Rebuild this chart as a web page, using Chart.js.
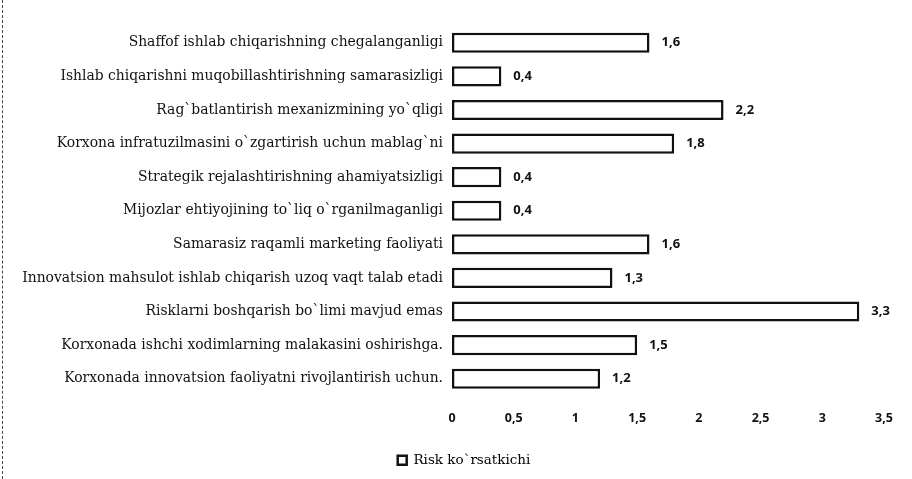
<!DOCTYPE html>
<html>
<head>
<meta charset="utf-8">
<script src="https://cdn.jsdelivr.net/npm/chart.js@4"></script>
<style>
  html, body { margin: 0; padding: 0; background: #fff; }
  #wrap { position: relative; width: 912px; height: 479px; }
  #edge { position: absolute; left: 2px; top: 0; bottom: 0; border-left: 1px dashed #444; }
</style>
</head>
<body>
<div id="wrap">
  <div id="edge"></div>
  <canvas id="risk"></canvas>
</div>
<script>
const categories = [
  'Shaffof ishlab chiqarishning chegalanganligi',
  'Ishlab chiqarishni muqobillashtirishning samarasizligi',
  'Rag`batlantirish mexanizmining yo`qligi',
  'Korxona infratuzilmasini o`zgartirish uchun mablag`ni',
  'Strategik rejalashtirishning ahamiyatsizligi',
  'Mijozlar ehtiyojining to`liq o`rganilmaganligi',
  'Samarasiz raqamli marketing faoliyati',
  'Innovatsion mahsulot ishlab chiqarish uzoq vaqt talab etadi',
  'Risklarni boshqarish bo`limi mavjud emas',
  'Korxonada ishchi xodimlarning malakasini oshirishga.',
  'Korxonada innovatsion faoliyatni rivojlantirish uchun.'
];
const riskValues = [1.6, 0.4, 2.2, 1.8, 0.4, 0.4, 1.6, 1.3, 3.3, 1.5, 1.2];
const seriesName = 'Risk ko`rsatkichi';

const serif = "'DejaVu Serif', 'Liberation Serif', serif";
const sans = "'Open Sans', 'DejaVu Sans', sans-serif";

const fmt = v => String(v).replace('.', ',');

// value labels at the end of each bar
const barValues = {
  id: 'barValues',
  afterDatasetsDraw(chart) {
    const ctx = chart.ctx;
    const meta = chart.getDatasetMeta(0);
    ctx.save();
    ctx.font = "bold 13px " + sans;
    ctx.fillStyle = '#111';
    ctx.textBaseline = 'middle';
    meta.data.forEach((bar, i) => {
      ctx.fillText(fmt(riskValues[i]), bar.x + 12, bar.y);
    });
    ctx.restore();
  }
};

// nudge the legend a little right of the canvas centre
const legendShift = {
  id: 'legendShift',
  afterLayout(chart) {
    chart.legend.left += 44;
  }
};

new Chart('risk', {
  type: 'bar',
  data: {
    labels: categories,
    datasets: [{
      label: seriesName,
      data: riskValues,
      backgroundColor: '#fff',
      borderColor: '#111',
      borderWidth: 2.5,
      borderSkipped: false,
      barPercentage: 0.6,
      categoryPercentage: 1
    }]
  },
  options: {
    indexAxis: 'y',
    responsive: true,
    maintainAspectRatio: false,
    animation: false,
    layout: { padding: { left: 0, right: 28, top: 26, bottom: 2 } },
    scales: {
      x: {
        min: 0,
        max: 3.5,
        grid: { display: false, drawTicks: false },
        border: { display: false },
        ticks: {
          stepSize: 0.5,
          padding: 15,
          color: '#111',
          font: { family: sans, size: 12.5, weight: 'bold' },
          callback: v => fmt(v)
        },
        afterFit: s => { s.height = 50; }
      },
      y: {
        grid: { display: false, drawTicks: false },
        border: { display: false },
        ticks: {
          padding: 9,
          color: '#111',
          font: { family: serif, size: 13.9 }
        },
        afterFit: s => { s.width = 452; }
      }
    },
    plugins: {
      legend: {
        position: 'bottom',
        labels: {
          boxWidth: 9,
          boxHeight: 9,
          color: '#111',
          font: { family: serif, size: 13.5 },
          padding: 8,
          generateLabels: chart => [{
            text: seriesName,
            fillStyle: '#fff',
            strokeStyle: '#111',
            lineWidth: 2.5,
            datasetIndex: 0
          }]
        }
      },
      tooltip: { enabled: false }
    }
  },
  plugins: [barValues, legendShift]
});
</script>
</body>
</html>
